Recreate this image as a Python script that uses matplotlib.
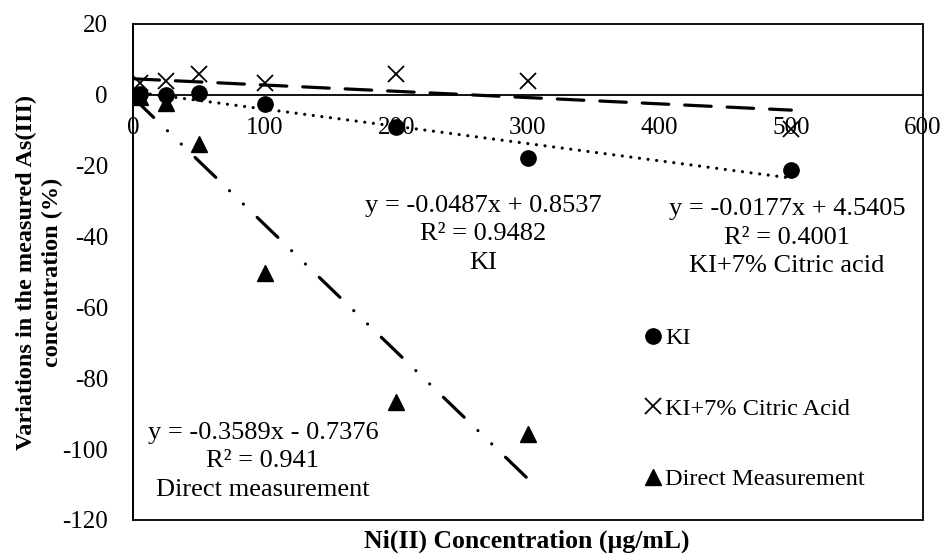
import numpy as np
import matplotlib
matplotlib.use("Agg")
import matplotlib.pyplot as plt
from matplotlib.patches import Rectangle

plt.rcParams['font.family'] = ['Liberation Serif', 'DejaVu Serif']
plt.rcParams['axes.unicode_minus'] = False

# Ni(II) concentrations (ug/mL) and measured variation (%)
ni_ki = [0, 5, 25, 50, 100, 200, 300, 500]
var_ki = [0, 0.2, 0.1, 0.4, -2.6, -9.2, -17.7, -21.1]

ni_citric = [0, 5, 25, 50, 100, 200, 300, 500]
var_citric = [0, 3.4, 4.0, 5.8, 3.3, 5.9, 4.0, -9.7]

ni_direct = [0, 5, 25, 50, 100, 200, 300]
var_direct = [0, -0.5, -2.3, -13.8, -50.2, -86.7, -95.8]

# Linear trendline coefficients (slope, intercept) and R^2
fit_ki = (-0.0487, 0.8537, 0.9482)
fit_citric = (-0.0177, 4.5405, 0.4001)
fit_direct = (-0.3589, -0.7376, 0.941)

x_ticks = [0, 100, 200, 300, 400, 500, 600]
y_ticks = [20, 0, -20, -40, -60, -80, -100, -120]

FS = 18

fig = plt.figure(figsize=(9.44, 5.55), dpi=100)
ax = fig.add_axes([133 / 944, 1 - 520 / 555, 790 / 944, 496 / 555])
ax.set_xlim(0, 600)
ax.set_ylim(-120, 20)

# Plot-area frame; bottom spine becomes the x axis at y = 0
for s in ['top', 'right']:
    ax.spines[s].set_visible(False)
ax.spines['bottom'].set_position(('data', 0))
ax.spines['bottom'].set_linewidth(1.3)
ax.spines['left'].set_linewidth(1.3)
ax.add_patch(Rectangle((0, 0), 1, 1, transform=ax.transAxes, fill=False,
                       lw=1.3, edgecolor='black', clip_on=False, zorder=5))

ax.set_xticks(x_ticks)
ax.set_yticks(y_ticks)
ax.tick_params(axis='x', length=0, pad=16, labelsize=FS)
ax.tick_params(axis='y', length=0, pad=18, labelsize=FS)

lw = 2.3


def trend(xs, fit, style):
    xx = np.array([0, max(xs)])
    ax.plot(xx, fit[0] * xx + fit[1], color='black', lw=lw,
            linestyle=style, dash_capstyle='round', zorder=3)


trend(ni_ki, fit_ki, (0, (0.01, 2.7)))
trend(ni_citric, fit_citric, (0, (8.3, 5.0)))
trend(ni_direct, fit_direct, (0, (9, 6, 0.01, 6, 0.01, 6)))

# Data points
h_ki, = ax.plot(ni_ki, var_ki, 'o', color='black', ms=11, linestyle='none',
                zorder=4, label='KI')
h_ci, = ax.plot(ni_citric, var_citric, 'x', color='black', ms=11, mew=1.3,
                linestyle='none', zorder=4, label='KI+7% Citric Acid')
h_di, = ax.plot(ni_direct, var_direct, '^', color='black', ms=11,
                linestyle='none', zorder=4, label='Direct Measurement')


def eq_text(fit, name):
    sign = '+' if fit[1] >= 0 else '-'
    return f"y = {fit[0]}x {sign} {abs(fit[1])}\nR\u00b2 = {fit[2]}\n{name}"


EQ_FS = 19
EQ_LS = 1.38
ax.text(265.8, -39.4, eq_text(fit_ki, 'KI'), ha='center', va='center',
        fontsize=EQ_FS, linespacing=EQ_LS)
ax.text(496.7, -40.3, eq_text(fit_citric, 'KI+7% Citric acid'), ha='center',
        va='center', fontsize=EQ_FS, linespacing=EQ_LS)
ax.text(98.7, -103.4, eq_text(fit_direct, 'Direct measurement'),
        ha='center', va='center', fontsize=EQ_FS, linespacing=EQ_LS)

ax.legend(handles=[h_ki, h_ci, h_di], loc='upper left',
          bbox_to_anchor=((646 - 133) / 790, (520 - 327) / 496),
          frameon=False, fontsize=17.5, handlelength=0.6, handletextpad=0.2,
          labelspacing=2.0, borderaxespad=0, borderpad=0)

fig.text(527 / 944, 1 - 541 / 555, 'Ni(II) Concentration (\u00b5g/mL)',
         fontsize=18.5, fontweight='bold', ha='center', va='center')
fig.text(39 / 944, 1 - 272 / 555,
         'Variations in the measured As(III)\nconcentration (%)',
         fontsize=17.5, fontweight='bold', ha='center', va='center',
         rotation=90, linespacing=1.3, multialignment='center')

fig.savefig('out.png', dpi=100)
